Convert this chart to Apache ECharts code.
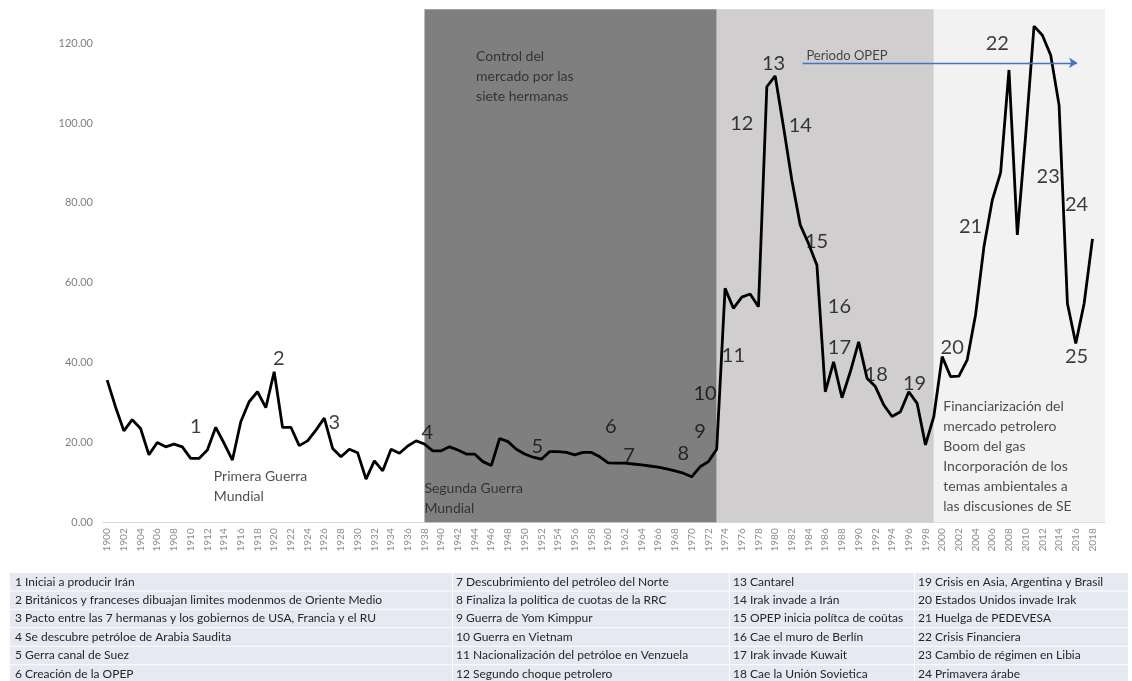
<!DOCTYPE html>
<html><head><meta charset="utf-8">
<script src="https://cdn.jsdelivr.net/npm/echarts@6/dist/echarts.min.js"></script>
<style>html,body{margin:0;padding:0;background:#fff}#c{width:1132px;height:681px}</style>
</head><body><div id="c"></div>
<script>
const years = ['1900','1901','1902','1903','1904','1905','1906','1907','1908','1909','1910','1911','1912','1913','1914','1915','1916','1917','1918','1919','1920','1921','1922','1923','1924','1925','1926','1927','1928','1929','1930','1931','1932','1933','1934','1935','1936','1937','1938','1939','1940','1941','1942','1943','1944','1945','1946','1947','1948','1949','1950','1951','1952','1953','1954','1955','1956','1957','1958','1959','1960','1961','1962','1963','1964','1965','1966','1967','1968','1969','1970','1971','1972','1973','1974','1975','1976','1977','1978','1979','1980','1981','1982','1983','1984','1985','1986','1987','1988','1989','1990','1991','1992','1993','1994','1995','1996','1997','1998','1999','2000','2001','2002','2003','2004','2005','2006','2007','2008','2009','2010','2011','2012','2013','2014','2015','2016','2017','2018','2019'];

const prices = [35.6,28.9,22.9,25.7,23.5,16.9,20.0,18.9,19.6,18.9,
 16.0,16.0,18.1,23.8,19.8,15.6,25.2,30.2,32.7,28.7,
 37.7,23.8,23.8,19.2,20.4,23.1,26.1,18.5,16.4,18.3,
 17.4,10.8,15.4,12.9,18.3,17.3,19.1,20.4,19.6,17.9,
 17.9,18.9,18.1,17.1,17.1,15.2,14.2,21.0,20.2,18.3,
 17.1,16.3,15.8,17.7,17.7,17.5,16.9,17.5,17.5,16.4,
 14.9,14.8,14.8,14.6,14.4,14.1,13.8,13.4,12.9,12.3,
 11.4,13.9,15.2,18.3,58.6,53.6,56.4,57.2,54.0,109.1,
 111.8,99.0,85.7,74.5,69.8,64.4,32.7,40.2,31.2,37.7,
 45.2,36.1,34.0,29.4,26.5,27.7,32.7,29.8,19.4,26.5,
 41.5,36.5,36.6,40.7,52.0,69.0,80.7,87.6,113.3,72.0,
 97.0,124.3,122.0,117.0,104.5,54.8,44.8,54.8,71.0];

// period bounds (years) and shading colours
const periodStart = [1938, 1973, 1999];
const periodEnd = [1973, 1999, 2019.5];
const periodColors = ['#7f7f7f', '#d0cece', '#f2f2f2'];

// event number labels: [year, value, label]
const eventLabels = [
 [1910.6,23.9,'1'],[1920.55,40.9,'2'],[1927.2,25.0,'3'],[1938.33,22.4,'4'],[1951.5,19.1,'5'],
 [1960.3,23.9,'6'],[1962.5,16.6,'7'],[1969.0,17.3,'8'],[1971.0,22.7,'9'],[1971.6,32.3,'10'],
 [1975.0,41.7,'11'],[1976.0,99.8,'12'],[1979.8,115.0,'13'],[1983.0,99.5,'14'],[1984.95,70.3,'15'],
 [1987.7,54.0,'16'],[1987.7,43.8,'17'],[1992.1,37.1,'18'],[1996.7,34.8,'19'],[2001.2,43.7,'20'],
 [2003.4,74.0,'21'],[2006.6,119.8,'22'],[2012.7,86.7,'23'],[2016.1,79.5,'24'],[2016.1,41.5,'25']
];

// text blocks: [year, value(top), text]
const textBlocks = [
 [1944.24,119.0,'Control del\nmercado por las\nsiete hermanas'],
 [1912.83,13.8,'Primera Guerra\nMundial'],
 [1938.05,10.8,'Segunda Guerra\nMundial'],
 [2000.19,31.4,'Financiarización del\nmercado petrolero\nBoom del gas\nIncorporación de los\ntemas ambientales a\nlas discusiones de SE']
];
const opepLabel = [1983.8,116.6,'Periodo OPEP'];
const opepArrow = [[1983.28,115.1],[2016.16,115.1]];

const tableCols = [
 ['1 Iniciai a producir Irán','2 Británicos y franceses dibuajan limites modenmos de Oriente Medio','3 Pacto entre las 7 hermanas y los gobiernos de USA, Francia y el RU','4 Se descubre petróloe de Arabia Saudita','5 Gerra canal de Suez','6 Creación de la OPEP'],
 ['7 Descubrimiento del petróleo del Norte','8 Finaliza la política de cuotas de la RRC','9 Guerra de Yom Kimppur','10 Guerra en Vietnam','11 Nacionalización del petróloe en Venzuela','12 Segundo choque petrolero'],
 ['13 Cantarel','14 Irak invade a Irán','15 OPEP inicia polítca de coûtas','16 Cae el muro de Berlín','17 Irak invade Kuwait','18 Cae la Unión Sovietica'],
 ['19 Crisis en Asia, Argentina y Brasil','20 Estados Unidos invade Irak','21 Huelga de PEDEVESA','22 Crisis Financiera','23 Cambio de régimen en Libia','24 Primavera árabe']
];

const FONT = 'Lato';
const chart = echarts.init(document.getElementById('c'));

const graphics = [];
graphics.push({type:'rect', shape:{x:10,y:573,width:1118,height:110}, style:{fill:'#e6e8f2'}, silent:true});
const colX = [15, 456, 733, 918];
const sepX = [452, 729, 914];
const rowY = [582, 600, 618.5, 637, 655.5, 674];
for (let r = 1; r < 6; r++) {
  graphics.push({type:'rect', shape:{x:10,y:(rowY[r-1]+rowY[r])/2-0.5,width:1118,height:1}, style:{fill:'#ffffff'}, silent:true});
}
sepX.forEach(x => graphics.push({type:'rect', shape:{x:x,y:573,width:1,height:110}, style:{fill:'#ffffff'}, silent:true}));
tableCols.forEach((col, ci) => {
  col.forEach((t, ri) => {
    graphics.push({type:'text', x:colX[ci], y:rowY[ri], style:{text:t, fill:'#262626', font:'12px ' + FONT, textVerticalAlign:'middle', textAlign:'left'}, silent:true});
  });
});

const option = {
  animation:false,
  grid:{left:103, right:27, top:9.3, bottom:158.7},
  xAxis:[
    {type:'category', data:years, boundaryGap:true,
     axisLine:{lineStyle:{color:'#d9d9d9'}}, axisTick:{show:false},
     axisLabel:{interval:1, rotate:90, fontSize:10, color:'#8c8c8c', margin:6, fontFamily:FONT}},
    {type:'value', min:1899.5, max:2019.5, show:false}
  ],
  yAxis:{type:'value', min:0, max:128.5, interval:20,
    axisLine:{show:false}, axisTick:{show:false}, splitLine:{show:false},
    axisLabel:{formatter:v=>v.toFixed(2), showMaxLabel:false, color:'#808080', fontSize:11, margin:10, fontFamily:FONT}},
  series:[
    {type:'scatter', xAxisIndex:1, data:[], z:1, silent:true,
     markArea:{silent:true, data: periodStart.map((s,i)=>[{xAxis:s, itemStyle:{color:periodColors[i]}},{xAxis:periodEnd[i]}])}},
    {type:'line', xAxisIndex:0, data:prices, showSymbol:false, symbol:'none', z:3,
     lineStyle:{color:'#000', width:2.8}},
    {type:'scatter', xAxisIndex:1, z:4, silent:true, symbolSize:1, itemStyle:{color:'rgba(0,0,0,0)'},
     data:eventLabels,
     label:{show:true, position:'inside', formatter:p=>p.data[2], fontSize:20, color:'#0d0d0d', fontFamily:FONT}},
    {type:'scatter', xAxisIndex:1, z:4, silent:true, symbolSize:1, itemStyle:{color:'rgba(0,0,0,0)'},
     data:textBlocks,
     label:{show:true, position:[0,0], align:'left', verticalAlign:'top', formatter:p=>p.data[2], fontSize:14, lineHeight:20, color:'#1f1f1f', fontFamily:FONT}},
    {type:'scatter', xAxisIndex:1, z:4, silent:true, symbolSize:1, itemStyle:{color:'rgba(0,0,0,0)'},
     data:[opepLabel],
     label:{show:true, position:[0,0], align:'left', verticalAlign:'middle', formatter:p=>p.data[2], fontSize:13, color:'#1f1f1f', fontFamily:FONT},
     markLine:{silent:true, symbol:['none','arrow'], symbolSize:8, label:{show:false},
       lineStyle:{color:'#4472c4', width:1.4, type:'solid'},
       data:[[{coord:opepArrow[0]},{coord:opepArrow[1]}]]}}
  ],
  graphic: graphics
};
chart.setOption(option);
</script></body></html>
